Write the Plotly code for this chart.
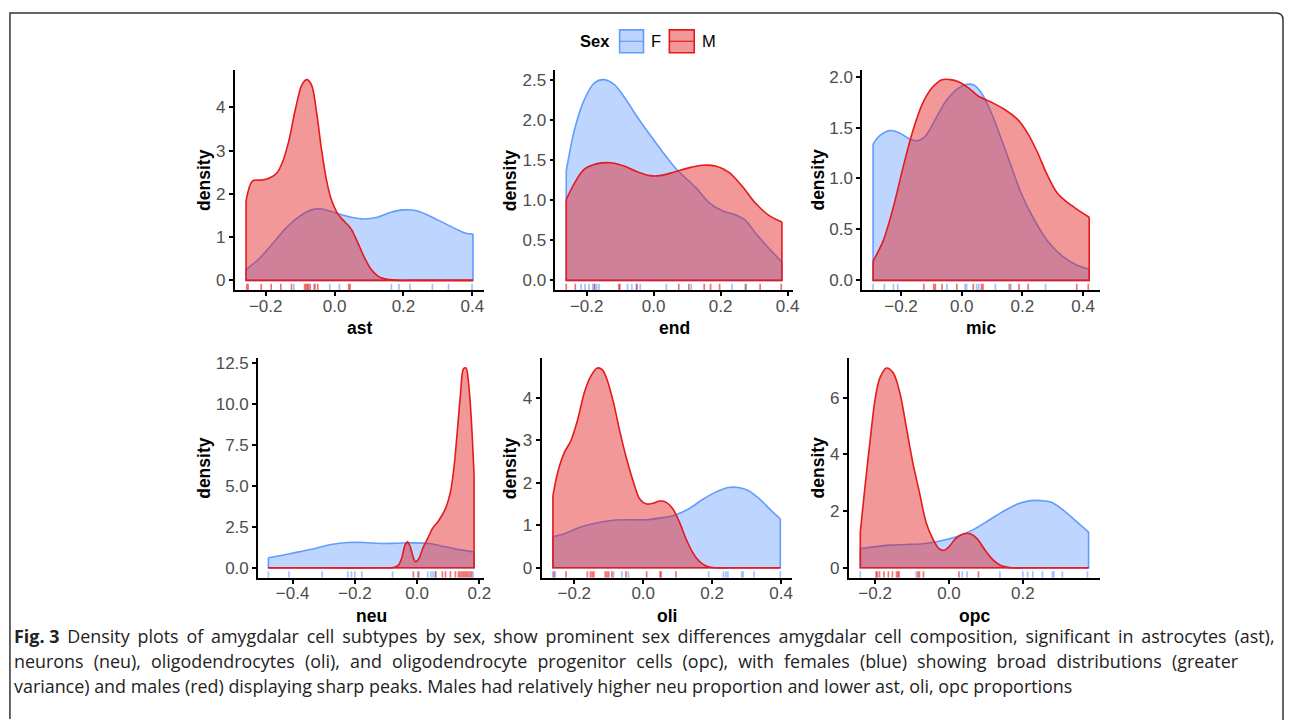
import plotly.graph_objects as go

W, H = 1292, 720

# ---------------- data ----------------
PANELS = ["ast", "end", "mic", "neu", "oli", "opc"]

# ast
AST_F_X = [-0.257, -0.219, -0.181, -0.143, -0.105, -0.067, -0.038, -0.010, 0.019, 0.048, 0.086, 0.124, 0.162, 0.200, 0.238, 0.276, 0.314, 0.352, 0.381, 0.402]
AST_F_Y = [0.25, 0.50, 0.84, 1.19, 1.46, 1.63, 1.65, 1.59, 1.52, 1.46, 1.42, 1.46, 1.57, 1.63, 1.61, 1.49, 1.34, 1.19, 1.09, 1.07]
AST_M_X = [-0.257, -0.238, -0.210, -0.186, -0.167, -0.152, -0.133, -0.114, -0.095, -0.081, -0.067, -0.052, -0.038, -0.024, -0.010, 0.010, 0.029, 0.048, 0.067, 0.086, 0.105, 0.124, 0.143, 0.181, 0.220, 0.402]
AST_M_Y = [1.84, 2.30, 2.32, 2.38, 2.49, 2.72, 3.22, 3.95, 4.52, 4.64, 4.52, 3.87, 3.03, 2.34, 1.88, 1.53, 1.36, 1.19, 0.88, 0.54, 0.27, 0.11, 0.04, 0.0, 0.0, 0.0]
AST_RUG_F = [-0.118, -0.060, -0.014, 0.014, 0.165, 0.187, 0.219, 0.284, 0.331, 0.399]
AST_RUG_M = [-0.255, -0.251, -0.213, -0.184, -0.156, -0.125, -0.087, -0.083, -0.079, -0.076, -0.071, -0.057, -0.049, 0.041, 0.045]

# end
END_F_X = [-0.261, -0.236, -0.207, -0.177, -0.148, -0.118, -0.089, -0.050, -0.011, 0.028, 0.068, 0.126, 0.166, 0.205, 0.244, 0.274, 0.303, 0.342, 0.383]
END_F_Y = [1.37, 1.89, 2.26, 2.47, 2.51, 2.45, 2.30, 2.05, 1.82, 1.60, 1.39, 1.16, 0.97, 0.87, 0.82, 0.75, 0.60, 0.41, 0.23]
END_M_X = [-0.261, -0.236, -0.207, -0.168, -0.129, -0.089, -0.050, -0.011, 0.018, 0.058, 0.107, 0.146, 0.185, 0.225, 0.264, 0.303, 0.342, 0.383]
END_M_Y = [1.01, 1.22, 1.39, 1.46, 1.47, 1.43, 1.36, 1.31, 1.31, 1.35, 1.41, 1.44, 1.43, 1.35, 1.18, 0.97, 0.82, 0.73]
END_RUG_F = [-0.217, -0.205, -0.193, -0.182, -0.176, -0.170, -0.163, -0.078, -0.065, -0.052, -0.040, 0.038, 0.112, 0.234, 0.273]
END_RUG_M = [-0.261, -0.234, -0.177, -0.104, -0.101, -0.050, 0.075, 0.105, 0.151, 0.170, 0.197, 0.276, 0.318, 0.381]

# mic
MIC_F_X = [-0.292, -0.270, -0.238, -0.206, -0.173, -0.146, -0.119, -0.087, -0.054, -0.022, 0.011, 0.038, 0.065, 0.097, 0.130, 0.162, 0.195, 0.238, 0.282, 0.335, 0.379, 0.420]
MIC_F_Y = [1.34, 1.42, 1.47, 1.45, 1.39, 1.37, 1.42, 1.58, 1.75, 1.86, 1.92, 1.92, 1.84, 1.65, 1.39, 1.13, 0.86, 0.60, 0.39, 0.23, 0.15, 0.11]
MIC_M_X = [-0.292, -0.260, -0.227, -0.195, -0.163, -0.130, -0.098, -0.065, -0.038, -0.011, 0.022, 0.054, 0.097, 0.140, 0.184, 0.216, 0.249, 0.281, 0.314, 0.346, 0.379, 0.420]
MIC_M_Y = [0.19, 0.38, 0.70, 1.09, 1.45, 1.73, 1.89, 1.97, 1.97, 1.95, 1.89, 1.81, 1.75, 1.68, 1.58, 1.45, 1.26, 1.04, 0.86, 0.77, 0.70, 0.62]
MIC_RUG_F = [-0.292, -0.255, -0.225, -0.211, -0.049, 0.011, 0.016, 0.049, 0.056, 0.111, 0.162, 0.276]
MIC_RUG_M = [-0.125, -0.092, -0.087, -0.065, -0.016, 0.038, 0.065, 0.070, 0.157, 0.189, 0.219, 0.379, 0.417]

# neu
NEU_F_X = [-0.478, -0.433, -0.381, -0.328, -0.276, -0.223, -0.171, -0.118, -0.066, -0.014, 0.039, 0.091, 0.144, 0.183]
NEU_F_Y = [0.61, 0.77, 0.97, 1.18, 1.42, 1.54, 1.54, 1.48, 1.50, 1.52, 1.48, 1.28, 1.08, 0.97]
NEU_M_X = [-0.478, -0.300, -0.108, -0.076, -0.060, -0.050, -0.039, -0.031, -0.022, -0.013, -0.005, 0.006, 0.018, 0.034, 0.049, 0.070, 0.091, 0.107, 0.118, 0.128, 0.139, 0.149, 0.157, 0.165, 0.174, 0.183]
NEU_M_Y = [0.0, 0.0, 0.0, 0.02, 0.16, 0.57, 1.38, 1.58, 1.28, 0.67, 0.37, 0.57, 1.18, 1.79, 2.39, 2.90, 3.61, 4.63, 6.05, 8.08, 10.51, 12.13, 12.18, 11.32, 9.09, 5.64]
NEU_RUG_F = [-0.478, -0.412, -0.305, -0.223, -0.211, -0.200, -0.178, -0.079, 0.002, 0.034, 0.044, 0.051, 0.058, 0.180]
NEU_RUG_M = [-0.012, 0.005, 0.060, 0.081, 0.091, 0.107, 0.123, 0.133, 0.138, 0.144, 0.149, 0.154, 0.159, 0.164, 0.170, 0.175]

# oli
OLI_F_X = [-0.262, -0.229, -0.181, -0.133, -0.086, -0.038, 0.010, 0.057, 0.095, 0.133, 0.171, 0.210, 0.248, 0.276, 0.305, 0.343, 0.371, 0.398]
OLI_F_Y = [0.73, 0.80, 0.96, 1.06, 1.12, 1.13, 1.13, 1.18, 1.25, 1.39, 1.60, 1.78, 1.89, 1.89, 1.82, 1.58, 1.35, 1.15]
OLI_M_X = [-0.262, -0.248, -0.229, -0.210, -0.190, -0.171, -0.152, -0.133, -0.119, -0.105, -0.086, -0.067, -0.048, -0.028, -0.010, 0.010, 0.029, 0.048, 0.067, 0.086, 0.105, 0.124, 0.143, 0.162, 0.181, 0.210, 0.248, 0.398]
OLI_M_Y = [1.70, 2.25, 2.71, 2.99, 3.49, 4.12, 4.51, 4.70, 4.66, 4.43, 3.88, 3.18, 2.56, 2.01, 1.62, 1.50, 1.52, 1.57, 1.54, 1.39, 1.08, 0.69, 0.37, 0.16, 0.05, 0.0, 0.0, 0.0]
OLI_RUG_F = [-0.262, -0.255, -0.086, -0.062, -0.043, 0.190, 0.233, 0.240, 0.246, 0.286, 0.290, 0.322, 0.398]
OLI_RUG_M = [-0.259, -0.224, -0.162, -0.153, -0.148, -0.143, -0.110, -0.105, -0.100, -0.091, -0.050, 0.010, 0.049, 0.052, 0.095]

# opc
OPC_F_X = [-0.240, -0.204, -0.160, -0.116, -0.071, -0.027, 0.018, 0.062, 0.107, 0.151, 0.187, 0.222, 0.249, 0.276, 0.311, 0.347, 0.378]
OPC_F_Y = [0.68, 0.74, 0.80, 0.82, 0.85, 0.94, 1.09, 1.32, 1.67, 2.02, 2.26, 2.37, 2.37, 2.32, 2.02, 1.61, 1.26]
OPC_M_X = [-0.240, -0.227, -0.213, -0.200, -0.187, -0.169, -0.151, -0.133, -0.116, -0.098, -0.080, -0.062, -0.044, -0.027, -0.013, 0.000, 0.018, 0.040, 0.058, 0.076, 0.098, 0.120, 0.142, 0.169, 0.204, 0.378]
OPC_M_Y = [1.26, 2.90, 4.54, 5.94, 6.70, 7.05, 6.88, 6.18, 5.01, 3.72, 2.67, 1.61, 1.03, 0.68, 0.62, 0.74, 1.03, 1.20, 1.20, 1.03, 0.62, 0.27, 0.07, 0.0, 0.0, 0.0]
OPC_RUG_F = [-0.240, -0.089, 0.036, 0.049, 0.138, 0.200, 0.213, 0.227, 0.253, 0.280, 0.284, 0.307, 0.375]
OPC_RUG_M = [-0.197, -0.194, -0.188, -0.176, -0.164, -0.153, -0.142, -0.138, -0.135, -0.084, -0.080, -0.069, 0.027, 0.080]

# tick labels
X_TICKS = {
    "ast": [-0.2, 0.0, 0.2, 0.4], "end": [-0.2, 0.0, 0.2, 0.4], "mic": [-0.2, 0.0, 0.2, 0.4],
    "neu": [-0.4, -0.2, 0.0, 0.2], "oli": [-0.2, 0.0, 0.2, 0.4], "opc": [-0.2, 0.0, 0.2],
}
Y_TICKS = {
    "ast": [0, 1, 2, 3, 4], "end": [0.0, 0.5, 1.0, 1.5, 2.0, 2.5], "mic": [0.0, 0.5, 1.0, 1.5, 2.0],
    "neu": [0.0, 2.5, 5.0, 7.5, 10.0, 12.5], "oli": [0, 1, 2, 3, 4], "opc": [0, 2, 4, 6],
}
Y_FMT = {"ast": "d", "end": ".1f", "mic": ".1f", "neu": ".1f", "oli": "d", "opc": "d"}

SEX_LABELS = ["F", "M"]
CAPTION_LABEL = "Fig. 3"
CAPTION = [
    " Density plots of amygdalar cell subtypes by sex, show prominent sex differences amygdalar cell composition, significant in astrocytes (ast),",
    "neurons (neu), oligodendrocytes (oli), and oligodendrocyte progenitor cells (opc), with females (blue) showing broad distributions (greater",
    "variance) and males (red) displaying sharp peaks. Males had relatively higher neu proportion and lower ast, oli, opc proportions",
]
CAPTION_WORD_SPACING = [3.2, 5.5, 0.0]  # justified lines in the original

DATA = {
    "ast": (AST_F_X, AST_F_Y, AST_M_X, AST_M_Y, AST_RUG_F, AST_RUG_M),
    "end": (END_F_X, END_F_Y, END_M_X, END_M_Y, END_RUG_F, END_RUG_M),
    "mic": (MIC_F_X, MIC_F_Y, MIC_M_X, MIC_M_Y, MIC_RUG_F, MIC_RUG_M),
    "neu": (NEU_F_X, NEU_F_Y, NEU_M_X, NEU_M_Y, NEU_RUG_F, NEU_RUG_M),
    "oli": (OLI_F_X, OLI_F_Y, OLI_M_X, OLI_M_Y, OLI_RUG_F, OLI_RUG_M),
    "opc": (OPC_F_X, OPC_F_Y, OPC_M_X, OPC_M_Y, OPC_RUG_F, OPC_RUG_M),
}

# ---------------- layout (pixel positions of panels) ----------------
PANEL_BOX = {  # left, right, top, bottom in pixels
    "ast": (236, 487, 66, 288),
    "end": (558.5, 797, 66, 288),
    "mic": (867, 1106, 66, 288),
    "neu": (259.5, 487, 356, 577),
    "oli": (544.5, 796, 356, 577),
    "opc": (853.5, 1106, 356, 577),
}
YTITLE_X = {"ast": 205, "end": 513, "mic": 822, "neu": 205, "oli": 513, "opc": 822}

F_LINE = "#619CFF"
M_LINE = "#E41A1C"
F_FILL = "rgba(97,156,255,0.42)"
M_FILL = "rgba(228,26,28,0.45)"
F_RUG = "rgba(97,156,255,0.6)"
M_RUG = "rgba(228,26,28,0.6)"

TICK_FONT = dict(family="Liberation Sans, Arial, sans-serif", size=17, color="#4d4d4d")
TITLE_FONT = dict(family="Liberation Sans, Arial, sans-serif", size=17.5, color="black")


def px(x):
    return x / W


def py(y):
    return 1 - y / H


fig = go.Figure()
layout = dict(
    width=W, height=H, margin=dict(l=0, r=0, t=0, b=0),
    paper_bgcolor="white", plot_bgcolor="white", showlegend=False,
)
annotations = []
shapes = []

for i, name in enumerate(PANELS, start=1):
    fx, fy, mx, my, rf, rm = DATA[name]
    xmin = min(fx + mx)
    xmax = max(fx + mx)
    xr = xmax - xmin
    xrange = [xmin - 0.05 * xr, xmax + 0.05 * xr]
    ymax = max(fy + my)
    yrange = [-0.05 * ymax, 1.05 * ymax]
    xa = "x" if i == 1 else f"x{i}"
    ya = "y" if i == 1 else f"y{i}"

    for sx, sy, line, fill in ((fx, fy, F_LINE, F_FILL), (mx, my, M_LINE, M_FILL)):
        fig.add_trace(go.Scatter(
            x=sx, y=sy, mode="lines", fill="tozeroy", fillcolor=fill,
            line=dict(color=line, width=1.6, shape="spline", smoothing=0.9),
            xaxis=xa, yaxis=ya, hoverinfo="skip"))
        fig.add_trace(go.Scatter(
            x=[sx[0], sx[0], sx[-1], sx[-1]], y=[sy[0], 0, 0, sy[-1]], mode="lines",
            line=dict(color=line, width=1.6), xaxis=xa, yaxis=ya, hoverinfo="skip"))

    rug_len = 0.03 * (yrange[1] - yrange[0])
    for vals, col in ((rf, F_RUG), (rm, M_RUG)):
        rx, ry = [], []
        for v in vals:
            rx += [v, v, None]
            ry += [yrange[0], yrange[0] + rug_len, None]
        fig.add_trace(go.Scatter(x=rx, y=ry, mode="lines", line=dict(color=col, width=1.7),
                                 xaxis=xa, yaxis=ya, hoverinfo="skip"))

    l, r, t, b = PANEL_BOX[name]
    axis_common = dict(showline=True, linecolor="black", linewidth=1.8, ticks="outside",
                       ticklen=4, tickwidth=1.5, tickcolor="black", showgrid=False,
                       zeroline=False, tickfont=TICK_FONT, fixedrange=True)
    layout["xaxis" if i == 1 else f"xaxis{i}"] = dict(
        domain=[px(l), px(r)], anchor=ya, range=xrange, tickvals=X_TICKS[name],
        tickformat=".1f", ticklabelstandoff=-5, **axis_common)
    layout["yaxis" if i == 1 else f"yaxis{i}"] = dict(
        domain=[py(b), py(t)], anchor=xa, range=yrange, tickvals=Y_TICKS[name],
        tickformat=Y_FMT[name], **axis_common)

    annotations.append(dict(text=f"<b>{name}</b>", x=px((l + r) / 2), y=py(b + 38),
                            xref="paper", yref="paper", showarrow=False, font=TITLE_FONT,
                            xanchor="center", yanchor="middle"))
    annotations.append(dict(text="<b>density</b>", x=px(YTITLE_X[name]), y=py((t + b) / 2),
                            xref="paper", yref="paper", showarrow=False, font=TITLE_FONT,
                            textangle=-90, xanchor="center", yanchor="middle"))

# legend (drawn by hand, ggplot style)
annotations.append(dict(text="<b>Sex</b>", x=px(598), y=py(37.5), xref="paper", yref="paper",
                        showarrow=False, font=dict(family="Liberation Sans, Arial", size=16.5, color="black"),
                        xanchor="center", yanchor="middle"))
for (x0, x1, tx), lab, line, fill in (((623, 647, 660), SEX_LABELS[0], F_LINE, F_FILL),
                                      ((673, 698, 713), SEX_LABELS[1], M_LINE, M_FILL)):
    shapes.append(dict(type="rect", xref="paper", yref="paper", x0=px(x0), x1=px(x1),
                       y0=py(49), y1=py(26), fillcolor=fill, line=dict(color=line, width=1.6)))
    shapes.append(dict(type="line", xref="paper", yref="paper", x0=px(x0), x1=px(x1),
                       y0=py(37.5), y1=py(37.5), line=dict(color=line, width=1.2)))
    annotations.append(dict(text=lab, x=px(tx), y=py(37.5), xref="paper", yref="paper",
                            showarrow=False, font=dict(family="Liberation Sans, Arial", size=16.5, color="black"),
                            xanchor="center", yanchor="middle"))

# caption
for k, (line_txt, ws, yy) in enumerate(zip(CAPTION, CAPTION_WORD_SPACING, [636, 661, 686])):
    txt = f'<span style="word-spacing:{ws}px">{line_txt}</span>' if ws else line_txt
    if k == 0:
        txt = f"<b>{CAPTION_LABEL}</b>" + txt
    annotations.append(dict(text=txt, x=px(12), y=py(yy), xref="paper", yref="paper",
                            showarrow=False, xanchor="left", yanchor="middle", align="left",
                            font=dict(family="Open Sans, sans-serif", size=17.9, color="#222")))

# outer frame
path = (f"M {px(10)} {py(719)} L {px(10)} {py(9)} L {px(1283)} {py(9)} "
        f"Q {px(1290)} {py(9)} {px(1290)} {py(16)} L {px(1290)} {py(720)}")
shapes.append(dict(type="path", xref="paper", yref="paper", path=path,
                   line=dict(color="#333", width=1.5)))

layout["annotations"] = annotations
layout["shapes"] = shapes
fig.update_layout(**layout)
fig.write_html("out.html", config={"displayModeBar": False},
               post_script="document.body.style.margin='0px';document.body.style.overflow='hidden';")
